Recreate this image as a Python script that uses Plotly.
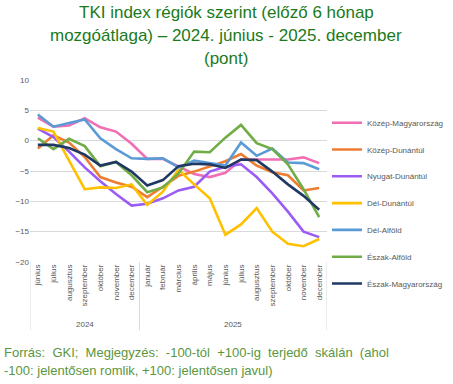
import plotly.graph_objects as go

years = ["2024"] * 7 + ["2025"] * 12
months = ["június", "július", "augusztus", "szeptember", "október", "november", "december",
          "január", "február", "március", "április", "május", "június", "július",
          "augusztus", "szeptember", "október", "november", "december"]
year_labels = ["2024", "2025"]

kozep_magyarorszag = [3.8, 2.3, 2.5, 3.7, 2.2, 1.5, -0.5, -3.0, -3.0, -4.3, -5.5, -6.0, -5.3, -3.1, -3.1, -3.2, -3.1, -2.75, -3.7]
kozep_dunantul = [-1.3, 0.9, -0.3, -2.7, -6.0, -6.9, -7.6, -9.3, -7.6, -5.8, -5.1, -4.3, -3.4, -2.2, -4.1, -5.2, -5.7, -8.2, -7.8]
nyugat_dunantul = [2.0, 0.6, -1.8, -4.4, -6.7, -8.8, -10.7, -10.4, -9.5, -8.2, -7.6, -5.1, -4.3, -3.9, -6.0, -8.7, -11.7, -15.0, -15.9]
del_dunantul = [2.1, 1.5, -3.3, -8.0, -7.7, -7.8, -7.2, -10.6, -8.4, -4.8, -7.2, -9.5, -15.5, -13.8, -11.1, -15.0, -17.0, -17.4, -16.2]
del_alfold = [4.3, 2.3, 2.9, 3.5, 0.4, -1.4, -2.9, -3.0, -2.9, -4.4, -3.3, -3.7, -4.1, -0.3, -2.5, -1.3, -3.6, -3.7, -4.7]
eszak_alfold = [0.4, -1.4, 0.3, -0.9, -4.2, -3.5, -5.7, -8.5, -7.7, -5.4, -1.8, -1.9, 0.5, 2.6, -0.4, -1.4, -3.9, -8.0, -12.6]
eszak_magyarorszag = [-0.7, -0.7, -1.2, -2.3, -4.1, -3.5, -5.1, -7.4, -6.5, -4.2, -3.8, -3.9, -4.5, -3.1, -3.2, -5.1, -7.2, -9.1, -11.4]

series = [
    ("Közép-Magyarország", kozep_magyarorszag, "#f06eb4"),
    ("Közép-Dunántúl", kozep_dunantul, "#ed7d31"),
    ("Nyugat-Dunántúl", nyugat_dunantul, "#9b5cf6"),
    ("Dél-Dunántúl", del_dunantul, "#ffc000"),
    ("Dél-Alföld", del_alfold, "#5b9bd5"),
    ("Észak-Alföld", eszak_alfold, "#70ad47"),
    ("Észak-Magyarország", eszak_magyarorszag, "#203864"),
]

cats = [f"{y} {m}" for y, m in zip(years, months)]

fig = go.Figure()
for i, (name, vals, col) in enumerate(series):
    fig.add_trace(go.Scatter(
        x=cats, y=vals, name=name, mode="lines",
        line=dict(color=col, width=2.6), legendgroup=str(i),
        hoverinfo="skip",
    ))

FONT = "Liberation Sans, Arial, sans-serif"
fig.update_layout(
    width=453, height=384,
    margin=dict(l=30, r=126, t=80, b=122, autoexpand=False),
    paper_bgcolor="white", plot_bgcolor="white",
    font=dict(family=FONT, color="#595959", size=8),
    showlegend=True,
    legend=dict(
        x=1.0, y=0.845, xanchor="left", yanchor="top",
        font=dict(size=8, color="#595959"),
        tracegroupgap=7.8, itemwidth=30, bgcolor="rgba(0,0,0,0)",
        maxheight=360,
    ),
    xaxis=dict(
        type="category", categoryorder="array", categoryarray=cats,
        tickvals=cats, ticktext=months, tickangle=-90,
        range=[-0.5, len(cats) - 0.5], automargin=False,
        showgrid=False, zeroline=False, showline=False, ticks="",
        tickfont=dict(size=8, color="#595959"),
    ),
    yaxis=dict(
        range=[-20, 10], dtick=5, showgrid=True, gridcolor="#d9d9d9", gridwidth=1,
        zeroline=False, showline=False, tickfont=dict(size=8, color="#595959"),
        ticks="", automargin=False,
    ),
)

# group dividers and year labels
n24 = years.count("2024")
for xv in [-0.5, n24 - 0.5, len(cats) - 0.5]:
    fig.add_shape(type="line", xref="x", yref="paper", x0=xv, x1=xv, y0=0, y1=-0.375,
                  line=dict(color="#d9d9d9", width=1))
for yl in year_labels:
    idx = [i for i, y in enumerate(years) if y == yl]
    fig.add_annotation(text=yl, xref="x", yref="paper", x=(idx[0] + idx[-1]) / 2, y=-0.345,
                       xanchor="center", yanchor="middle", showarrow=False,
                       font=dict(size=8, color="#595959"))

# title
title_lines = ["TKI index régiók szerint (előző 6 hónap",
               "mozgóátlaga) – 2024. június - 2025. december",
               "(pont)"]
for k, line in enumerate(title_lines):
    fig.add_annotation(text=line, xref="paper", yref="paper", x=(226 - 30) / 297,
                       y=(262 - (12 + 23 * k)) / 182, xanchor="center", yanchor="middle",
                       showarrow=False, font=dict(size=17, color="#1b7a1b", family=FONT))

fig.add_annotation(
    text="Forrás:\u00a0 GKI;\u00a0 Megjegyzés:\u00a0 -100-tól\u00a0 +100-ig\u00a0 terjedő\u00a0 skálán\u00a0 (ahol",
    xref="paper", yref="paper", x=-0.095, y=(262 - 352) / 182, xanchor="left", yanchor="middle",
    showarrow=False, font=dict(size=13, color="#5b9640", family=FONT),
)
fig.add_annotation(
    text="-100: jelentősen romlik, +100: jelentősen javul)",
    xref="paper", yref="paper", x=-0.095, y=(262 - 370) / 182, xanchor="left", yanchor="middle",
    showarrow=False, font=dict(size=13, color="#5b9640", family=FONT),
)

fig.write_html(
    "out.html", config={"displayModeBar": False},
    post_script=("document.documentElement.style.overflow='hidden';"
                 "document.body.style.overflow='hidden';"
                 "document.body.style.margin='0';"),
)
